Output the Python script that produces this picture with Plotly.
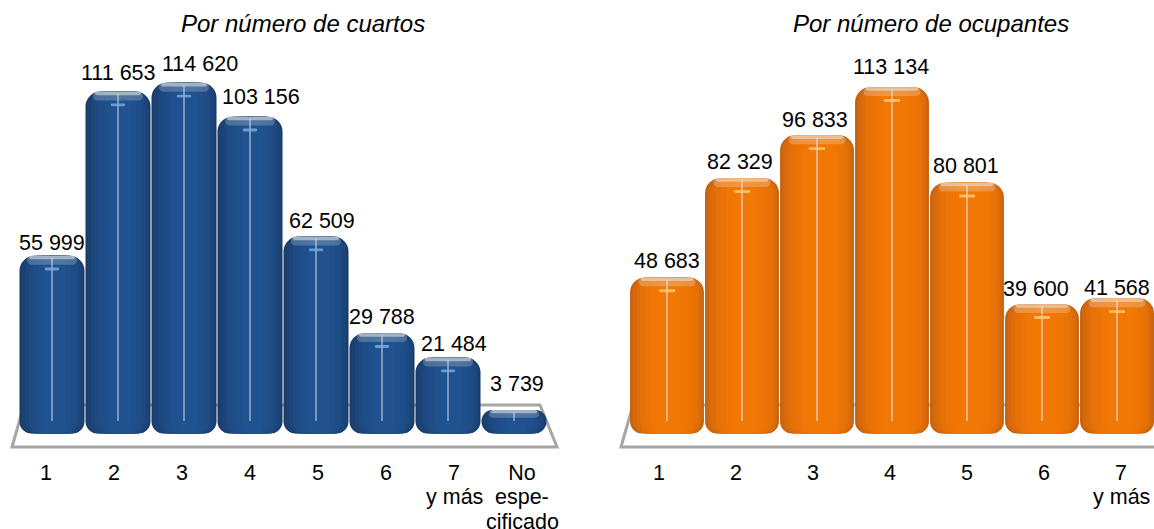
import plotly.graph_objects as go

# ---------- data ----------
rooms_ticks = ["1", "2", "3", "4", "5", "6", "7", "No"]
rooms_ticks_more = [(6, 1, "y más"), (7, 1, "espe-"), (7, 2, "cificado")]
rooms_values = [55999, 111653, 114620, 103156, 62509, 29788, 21484, 3739]
rooms_labels = ["55 999", "111 653", "114 620", "103 156", "62 509", "29 788", "21 484", "3 739"]

occupants_ticks = ["1", "2", "3", "4", "5", "6", "7"]
occupants_ticks_more = [(6, 1, "y más")]
occupants_values = [48683, 82329, 96833, 113134, 80801, 39600, 41568]
occupants_labels = ["48 683", "82 329", "96 833", "113 134", "80 801", "39 600", "41 568"]

# ---------- layout constants (pixels in the 1154x529 page) ----------
W, H = 1154, 529
PX_PER_UNIT = 0.00295
ZERO_PX = 421
AXIS_PX = 447
FLOOR = 4200  # how far below zero the rounded foot of a cylinder reaches
FONT = 21.5
TITLE_FONT = 24
TICK_Y_PX = 472
TICK_LINE_PX = 25

ROOM_C0, ROOM_PITCH = 52.0, 66.0
OCC_C0, OCC_PITCH = 667.0, 75.0
ROOM_TICK0, ROOM_TICK_PITCH = 46.0, 68.0
OCC_TICK0, OCC_TICK_PITCH = 659.0, 77.0
SPLIT = 577

room_label_dx = [0, 0, 16, 11, 6, 0, 6, 3]
room_label_dy = [13, 19, 19, 20, 16, 16, 14, 26]
occ_label_dx = [0, -2, -2, -1, -1, -6, 0]
occ_label_dy = [16, 16, 15, 20, 17, 15, 10]

BLUE = ["#1a3c68", "#1b4272", "#1c467a", "#1d4a82", "#1e4d88", "#1f508c", "#20528f"]
ORANGE = ["#c4620f", "#d3690c", "#de6d09", "#e67107", "#ec7406", "#f07606", "#f27806"]
SHADE_WIDTHS = [0.985, 0.93, 0.85, 0.76, 0.64, 0.50, 0.32]
SHADE_SHIFTS = [0, 0.005, 0.015, 0.025, 0.035, 0.04, 0.04]
SHADE_RADII = [15, 14, 13, 12, 11, 9, 7]

fig = go.Figure()


def add_cylinders(values, palette, xa, ya, cap, cap_soft, glare):
    xs = list(range(len(values)))
    for colour, width, shift, radius in zip(palette, SHADE_WIDTHS, SHADE_SHIFTS, SHADE_RADII):
        xsh = [x + shift for x in xs]
        fig.add_bar(x=xsh, y=values, width=width, marker=dict(color=colour, line_width=0, cornerradius=radius),
                    xaxis=xa, yaxis=ya, hoverinfo="skip", showlegend=False)
        fig.add_bar(x=xsh, y=[-FLOOR] * len(values), width=width,
                    marker=dict(color=colour, line_width=0, cornerradius=radius),
                    xaxis=xa, yaxis=ya, hoverinfo="skip", showlegend=False)
    # soft pale cap, then its brighter rim
    soft_h = [min(3000, 0.7 * v) for v in values]
    fig.add_bar(x=xs, y=soft_h, base=[v - h for v, h in zip(values, soft_h)], width=0.76,
                marker=dict(color=cap_soft, line_width=0, cornerradius=7),
                xaxis=xa, yaxis=ya, hoverinfo="skip", showlegend=False)
    cap_h = [min(1200, 0.3 * v) for v in values]
    fig.add_bar(x=xs, y=cap_h, base=[v - h for v, h in zip(values, cap_h)], width=0.7,
                marker=dict(color=cap, line_width=0, cornerradius=4),
                xaxis=xa, yaxis=ya, hoverinfo="skip", showlegend=False)
    # thin vertical reflection
    line_top = [max(0.0, v - 800) for v in values]
    fig.add_bar(x=xs, y=line_top, width=0.026,
                marker=dict(color="rgba(225,232,240,0.55)", line_width=0),
                xaxis=xa, yaxis=ya, hoverinfo="skip", showlegend=False)
    # small glare under the cap
    gl = [max(v - 5000, 0) for v in values]
    fig.add_bar(x=xs, y=[1000 if v > 8000 else 0 for v in values], base=gl, width=0.22,
                marker=dict(color=glare, line_width=0, cornerradius=2),
                xaxis=xa, yaxis=ya, hoverinfo="skip", showlegend=False)


add_cylinders(rooms_values, BLUE, "x", "y", "rgba(190,200,212,0.75)", "rgba(190,200,212,0.3)", "rgba(120,175,225,0.8)")
add_cylinders(occupants_values, ORANGE, "x2", "y", "rgba(232,205,180,0.75)", "rgba(232,205,180,0.35)", "rgba(252,200,120,0.85)")

annotations = []
for i, (v, t, dx, dy) in enumerate(zip(rooms_values, rooms_labels, room_label_dx, room_label_dy)):
    annotations.append(dict(x=i, y=v, xref="x", yref="y", text=t, showarrow=False,
                            xshift=dx, yshift=dy, font=dict(size=FONT)))
for i, (v, t, dx, dy) in enumerate(zip(occupants_values, occupants_labels, occ_label_dx, occ_label_dy)):
    annotations.append(dict(x=i, y=v, xref="x2", yref="y", text=t, showarrow=False,
                            xshift=dx, yshift=dy, font=dict(size=FONT)))
annotations.append(dict(x=303 / W, y=1 - 24 / H, xref="paper", yref="paper", showarrow=False,
                        xanchor="center", yanchor="middle",
                        text="<i>Por número de cuartos</i>", font=dict(size=TITLE_FONT)))
annotations.append(dict(x=931 / W, y=1 - 24 / H, xref="paper", yref="paper", showarrow=False,
                        xanchor="center", yanchor="middle",
                        text="<i>Por número de ocupantes</i>", font=dict(size=TITLE_FONT)))

# continuation lines of the two-and three-line category labels
for i, line, t in rooms_ticks_more:
    annotations.append(dict(x=(ROOM_TICK0 + i * ROOM_TICK_PITCH) / W, y=1 - (TICK_Y_PX + line * TICK_LINE_PX) / H,
                            xref="paper", yref="paper", text=t, showarrow=False, xanchor="center", yanchor="middle",
                            font=dict(size=FONT)))
for i, line, t in occupants_ticks_more:
    annotations.append(dict(x=(OCC_TICK0 + i * OCC_TICK_PITCH) / W, y=1 - (TICK_Y_PX + line * TICK_LINE_PX) / H,
                            xref="paper", yref="paper", text=t, showarrow=False, xanchor="center", yanchor="middle",
                            font=dict(size=FONT)))


def floor_path(x_front_l, x_back_l, x_back_r, x_front_r, y_back=405, y_front=447):
    return dict(type="path", xref="paper", yref="paper", layer="below",
                path=(f"M {x_front_l / W} {1 - y_front / H} L {x_back_l / W} {1 - y_back / H} "
                      f"L {x_back_r / W} {1 - y_back / H} L {x_front_r / W} {1 - y_front / H} Z"),
                line=dict(color="#a6a6a6", width=3), fillcolor="rgba(0,0,0,0)")


xaxis_common = dict(showgrid=False, zeroline=False, showline=False, ticks="", tickangle=0, automargin=False,
                    tickfont=dict(size=FONT, color="#000000"), tickmode="array")

fig.update_layout(
    width=W, height=H, autosize=False,
    margin=dict(l=0, r=0, t=0, b=0),
    paper_bgcolor="white", plot_bgcolor="rgba(0,0,0,0)",
    barmode="overlay", showlegend=False,
    font=dict(family="Liberation Sans, Arial, sans-serif", color="#000000"),
    annotations=annotations,
    shapes=[floor_path(12, 24, 540, 557), floor_path(621, 633, 1150, 1170)],
    xaxis=dict(domain=[0, SPLIT / W], range=[-ROOM_C0 / ROOM_PITCH, (SPLIT - ROOM_C0) / ROOM_PITCH],
               tickvals=[(ROOM_TICK0 + i * ROOM_TICK_PITCH - ROOM_C0) / ROOM_PITCH for i in range(len(rooms_ticks))],
               ticktext=rooms_ticks, ticklabelstandoff=10, **xaxis_common),
    xaxis2=dict(domain=[SPLIT / W, 1], range=[(SPLIT - OCC_C0) / OCC_PITCH, (W - OCC_C0) / OCC_PITCH],
                tickvals=[(OCC_TICK0 + i * OCC_TICK_PITCH - OCC_C0) / OCC_PITCH for i in range(len(occupants_ticks))],
                ticktext=occupants_ticks, ticklabelstandoff=10, anchor="y", **xaxis_common),
    yaxis=dict(domain=[1 - AXIS_PX / H, 1],
               range=[-(AXIS_PX - ZERO_PX) / PX_PER_UNIT, ZERO_PX / PX_PER_UNIT],
               visible=False, automargin=False),
)

fig.write_html("out.html", config=dict(displayModeBar=False),
               post_script="document.body.style.margin='0';document.body.style.overflow='hidden';")
